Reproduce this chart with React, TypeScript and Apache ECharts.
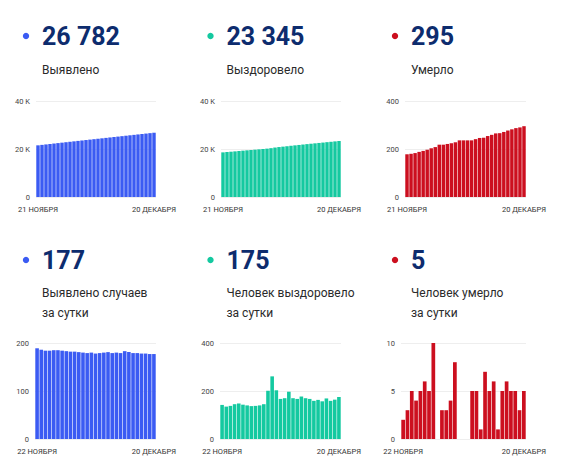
import React, { useEffect, useRef } from "react";
import * as echarts from "echarts";

const datesTop = [
  "21 НОЯБРЯ", "22 НОЯБРЯ", "23 НОЯБРЯ", "24 НОЯБРЯ", "25 НОЯБРЯ", "26 НОЯБРЯ", "27 НОЯБРЯ", "28 НОЯБРЯ", "29 НОЯБРЯ", "30 НОЯБРЯ",
  "1 ДЕКАБРЯ", "2 ДЕКАБРЯ", "3 ДЕКАБРЯ", "4 ДЕКАБРЯ", "5 ДЕКАБРЯ", "6 ДЕКАБРЯ", "7 ДЕКАБРЯ", "8 ДЕКАБРЯ", "9 ДЕКАБРЯ", "10 ДЕКАБРЯ",
  "11 ДЕКАБРЯ", "12 ДЕКАБРЯ", "13 ДЕКАБРЯ", "14 ДЕКАБРЯ", "15 ДЕКАБРЯ", "16 ДЕКАБРЯ", "17 ДЕКАБРЯ", "18 ДЕКАБРЯ", "19 ДЕКАБРЯ", "20 ДЕКАБРЯ",
];
const datesDaily = datesTop.slice(1);

const casesTotal = [
  21530, 21719, 21905, 22089, 22273, 22458, 22643, 22827, 23010, 23192,
  23374, 23555, 23735, 23914, 24094, 24272, 24451, 24631, 24812, 24991,
  25171, 25350, 25533, 25714, 25893, 26072, 26250, 26428, 26605, 26782,
];
const recoveredTotal = [
  18598, 18740, 18875, 19013, 19158, 19306, 19449, 19589, 19726, 19864,
  20004, 20149, 20350, 20611, 20814, 20981, 21151, 21348, 21518, 21685,
  21862, 22032, 22199, 22358, 22521, 22678, 22847, 23006, 23170, 23345,
];
const deathsTotal = [
  178, 180, 183, 188, 192, 197, 203, 208, 218, 218,
  221, 224, 228, 236, 236, 236, 236, 241, 246, 247,
  254, 259, 265, 266, 271, 277, 282, 287, 290, 295,
];
const casesDaily = [
  189, 186, 184, 184, 185, 185, 184, 183, 182, 182,
  181, 180, 179, 180, 178, 179, 180, 181, 179, 180,
  179, 183, 181, 179, 179, 178, 178, 177, 177,
];
const recoveredDaily = [
  142, 135, 138, 145, 148, 143, 140, 137, 138, 140,
  145, 201, 261, 203, 167, 170, 197, 170, 167, 177,
  170, 167, 159, 163, 157, 169, 159, 164, 175,
];
const deathsDaily = [
  2, 3, 5, 4, 5, 6, 5, 10, 0, 3,
  3, 4, 8, 0, 0, 0, 5, 5, 1, 7,
  5, 6, 1, 5, 6, 5, 5, 3, 5,
];

const headlineNumbers = ["26 782", "23 345", "295", "177", "175", "5"];
const headlineLabels = [
  "Выявлено", "Выздоровело", "Умерло",
  "Выявлено случаев\nза сутки", "Человек выздоровело\nза сутки", "Человек умерло\nза сутки",
];

const BLUE = "#3b5bf3";
const GREEN = "#14c9a0";
const RED = "#cc0f1f";
const NAVY = "#0d2c6e";
const FONT = "Roboto, sans-serif";

export default function App() {
  const ref = useRef<HTMLDivElement>(null);
  useEffect(() => {
    const chart = echarts.init(ref.current!, null, { renderer: "svg" });

    const panels = [
      { data: casesTotal, cats: datesTop, color: BLUE, max: 40000, interval: 20000, left: 36, top: 101, width: 120, k: true },
      { data: recoveredTotal, cats: datesTop, color: GREEN, max: 40000, interval: 20000, left: 221, top: 101, width: 120, k: true },
      { data: deathsTotal, cats: datesTop, color: RED, max: 400, interval: 200, left: 405, top: 101, width: 121, k: false },
      { data: casesDaily, cats: datesDaily, color: BLUE, max: 200, interval: 100, left: 35, top: 343, width: 121, k: false },
      { data: recoveredDaily, cats: datesDaily, color: GREEN, max: 400, interval: 200, left: 220, top: 343, width: 121, k: false },
      { data: deathsDaily, cats: datesDaily, color: RED, max: 10, interval: 5, left: 401, top: 343, width: 125, k: false },
    ];

    const colX = [0, 184.5, 369];
    const graphics: any[] = [];
    panels.forEach((p, i) => {
      const cx = colX[i % 3];
      const row = i < 3 ? 0 : 1;
      const numY = row === 0 ? 36 : 260;
      const labY = row === 0 ? 70 : 293;
      graphics.push({
        type: "circle",
        shape: { cx: cx + 26, cy: numY, r: 3.2 },
        style: { fill: p.color },
      });
      graphics.push({
        type: "text",
        x: cx + 42,
        y: numY,
        style: {
          text: headlineNumbers[i],
          font: `bold 25px ${FONT}`,
          fill: NAVY,
          verticalAlign: "middle",
        },
      });
      graphics.push({
        type: "text",
        x: cx + 42,
        y: labY - 10,
        style: {
          text: headlineLabels[i],
          font: `12px ${FONT}`,
          fill: "#2a2a2a",
          lineHeight: 20,
          verticalAlign: "top",
        },
      });
    });

    chart.setOption({
      animation: false,
      backgroundColor: "#ffffff",
      textStyle: { fontFamily: FONT },
      grid: panels.map((p) => ({ left: p.left, top: p.top, width: p.width, height: 96 })),
      xAxis: panels.map((p, i) => ({
        type: "category",
        gridIndex: i,
        data: p.cats,
        axisLine: { show: false },
        axisTick: { show: false },
        axisLabel: {
          interval: (idx: number) => idx === 0 || idx === p.cats.length - 1,
          fontSize: 7.5,
          color: "#333",
          margin: 8,
          hideOverlap: false,
        },
      })),
      yAxis: panels.map((p, i) => ({
        type: "value",
        gridIndex: i,
        min: 0,
        max: p.max,
        interval: p.interval,
        axisLine: { show: false },
        axisTick: { show: false },
        splitLine: { lineStyle: { color: "#eeeeee", width: 1 } },
        axisLabel: {
          fontSize: 7.5,
          color: "#444",
          margin: 6,
          formatter: (v: number) => (p.k && v !== 0 ? `${v / 1000} K` : `${v}`),
        },
      })),
      series: panels.map((p, i) => ({
        type: "bar",
        xAxisIndex: i,
        yAxisIndex: i,
        data: p.data,
        barCategoryGap: "14%",
        itemStyle: { color: p.color },
      })),
      graphic: graphics,
    });
    return () => chart.dispose();
  }, []);
  return (
    <div
      ref={ref}
      style={{ position: "absolute", left: 0, top: 0, width: 561, height: 471, background: "#fff" }}
    />
  );
}
